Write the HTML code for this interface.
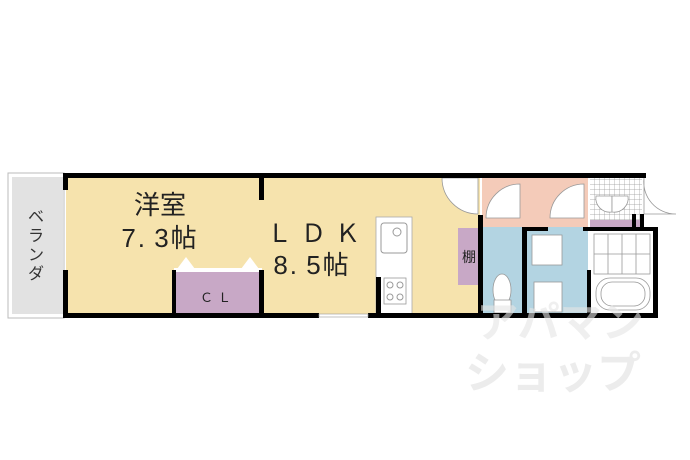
<!DOCTYPE html>
<html><head><meta charset="utf-8"><style>
html,body{margin:0;padding:0;background:#fff;}
svg{display:block;}
text{font-family:"Liberation Sans","Noto Sans CJK JP",sans-serif;}
</style></head><body>
<svg width="690" height="460" viewBox="0 0 690 460" xmlns="http://www.w3.org/2000/svg">
<defs>
<pattern id="tile" width="5" height="5" patternUnits="userSpaceOnUse">
<rect width="5" height="5" fill="#fff"/><path d="M5 0V5H0" fill="none" stroke="#999" stroke-width="0.7"/>
</pattern>
</defs>
<rect x="8" y="173" width="56" height="145" fill="#fff" stroke="#bbb" stroke-width="1"/>
<rect x="12" y="177" width="51" height="137" fill="#e2e2e2"/>
<rect x="66" y="177" width="196" height="138" fill="#f6e3ad"/>
<rect x="262" y="177" width="218" height="138" fill="#f6e3ad"/>
<rect x="174" y="272" width="88" height="42" fill="#c8a8c6"/>
<rect x="174" y="268" width="88" height="4" fill="#fff"/>
<polygon points="177,269 186,257 195,269" fill="#fff"/>
<polygon points="241,269 250,257 259,269" fill="#fff"/>
<rect x="482" y="177" width="106" height="50" fill="#f4cbb9"/>
<rect x="482" y="227" width="106" height="88" fill="#b3d4e2"/>
<rect x="590" y="177" width="52" height="45" fill="url(#tile)"/>
<rect x="590" y="220" width="52" height="8" fill="#c8a8c6"/>
<rect x="590" y="229" width="64" height="86" fill="#fff"/>
<g stroke="#999" stroke-width="0.8" fill="none">
<rect x="594" y="234" width="56" height="40"/>
<path d="M608 234V274M622 234V274M636 234V274M594 254H650"/>
<rect x="596" y="278" width="54" height="32" rx="14"/>
<rect x="601" y="282" width="44" height="24" rx="11"/>
</g>
<rect x="376" y="217" width="36" height="97" fill="#fff" stroke="#aaa" stroke-width="0.8"/>
<rect x="381" y="223" width="26" height="30" rx="3" fill="#fff" stroke="#999"/>
<circle cx="397" cy="232" r="4" fill="none" stroke="#999"/>
<rect x="384" y="278" width="22" height="26" fill="#fff" stroke="#999" stroke-width="0.8"/>
<circle cx="390" cy="285" r="3" fill="none" stroke="#999"/><circle cx="400" cy="285" r="3" fill="none" stroke="#999"/>
<circle cx="390" cy="297" r="3" fill="none" stroke="#999"/><circle cx="400" cy="297" r="3" fill="none" stroke="#999"/>
<rect x="458" y="228" width="21" height="57" fill="#c8a8c6"/>
<rect x="532" y="235" width="30" height="30" fill="#fff" stroke="#999" stroke-width="0.8"/>
<ellipse cx="502" cy="290" rx="9" ry="16" fill="#fff" stroke="#999" stroke-width="0.8"/>
<rect x="494" y="300" width="17" height="13" fill="#fff" stroke="#999" stroke-width="0.8"/>
<rect x="534" y="282" width="28" height="30" fill="#fff" stroke="#999" stroke-width="0.8"/>
<g fill="#fff" stroke="#999" stroke-width="0.8">
<path d="M442 178 A36 36 0 0 0 478 214 L478 178 Z"/>
<path d="M486 218 A34 34 0 0 1 520 184 L520 218 Z"/>
<path d="M550 218 A34 34 0 0 1 584 184 L584 218 Z"/>
<path d="M596 196 A14 14 0 0 0 612 212 L612 196Z"/>
<path d="M628 196 A14 14 0 0 1 612 212 L612 196Z"/>
<path d="M644 178 A32 32 0 0 0 676 214 L644 214 Z"/>
</g>
<g fill="#000">
<rect x="63" y="173" width="583" height="5"/>
<rect x="63" y="173" width="5" height="17"/>
<rect x="63" y="270" width="5" height="48"/>
<rect x="63" y="313" width="256" height="5"/>
<rect x="368" y="313" width="290" height="5"/>
<rect x="259" y="173" width="5" height="27"/>
<rect x="259" y="270" width="5" height="48"/>
<rect x="172" y="270" width="4" height="48"/>
<rect x="376" y="277" width="5" height="41"/>
<rect x="478" y="215" width="5" height="103"/>
<rect x="522" y="227" width="5" height="91"/>
<rect x="522" y="227" width="26" height="4"/>
<rect x="583" y="227" width="75" height="4"/>
<rect x="587" y="270" width="4" height="48"/>
<rect x="653" y="227" width="5" height="91"/>
<rect x="632" y="214" width="4" height="15"/>
<rect x="640" y="214" width="4" height="15"/>
</g>
<rect x="319" y="314" width="49" height="3" fill="#fff" stroke="#999" stroke-width="0.6"/>
<text x="560" y="337" font-size="42" font-weight="bold" fill="#e4e4e4" fill-opacity="0.6" text-anchor="middle">アパマン</text>
<text x="553" y="388" font-size="44" font-weight="bold" fill="#e4e4e4" fill-opacity="0.7" text-anchor="middle">ショップ</text>
<text x="160" y="214" font-size="26" fill="#222" text-anchor="middle">洋室</text>
<text x="160" y="247" font-size="26" fill="#222" text-anchor="middle" letter-spacing="2">7.&#8201;3帖</text>
<text x="318" y="242" font-size="25" fill="#222" text-anchor="middle" letter-spacing="9">ＬＤＫ</text>
<text x="312" y="274" font-size="26" fill="#222" text-anchor="middle" letter-spacing="2">8.&#8201;5帖</text>
<text x="218" y="302" font-size="13" fill="#222" text-anchor="middle" letter-spacing="5">ＣＬ</text>
<text x="469" y="262" font-size="14" fill="#222" text-anchor="middle">棚</text>
<g font-size="16" fill="#333" text-anchor="middle">
<text x="36" y="222">ベ</text><text x="36" y="241">ラ</text><text x="36" y="260">ン</text><text x="36" y="279">ダ</text>
</g>
</svg>
</body></html>
